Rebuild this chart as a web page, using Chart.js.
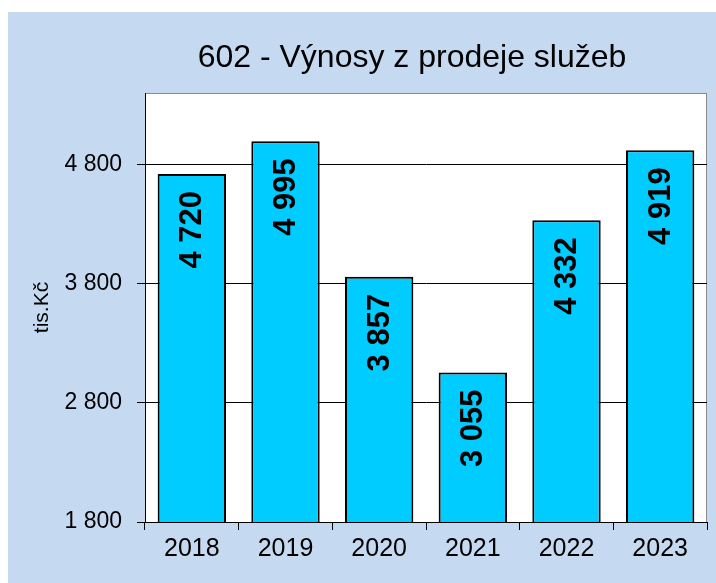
<!DOCTYPE html>
<html>
<head>
<meta charset="utf-8">
<script src="https://cdn.jsdelivr.net/npm/chart.js@4.4.0/dist/chart.umd.min.js"></script>
<style>
  html, body { margin: 0; padding: 0; background: #fff; }
  canvas { display: block; }
</style>
</head>
<body>
<canvas id="myChart" width="716" height="583"></canvas>
<script>
const years = ['2018', '2019', '2020', '2021', '2022', '2023'];
const revenues = [4720, 4995, 3857, 3055, 4332, 4919];
const yTicks = [1800, 2800, 3800, 4800];
const chartTitle = '602 - Výnosy z prodeje služeb';
const yTitle = 'tis.Kč';

function spaced(v){
    return String(v).replace(/\B(?=(\d{3})+(?!\d))/g, ' ');
}

// background, plot area, title
const frame = {
    id: 'frame',
    beforeDraw(chart){
        const ctx = chart.ctx;
        const a = chart.chartArea;
        ctx.save();
        ctx.fillStyle = '#fff';
        ctx.fillRect(0, 0, chart.width, chart.height);
        ctx.fillStyle = 'rgb(197, 217, 241)';
        ctx.fillRect(8, 12, chart.width - 8, chart.height - 12);
        ctx.fillStyle = '#fff';
        ctx.fillRect(a.left, a.top, a.right - a.left, a.bottom - a.top);
        ctx.strokeStyle = '#8c8c8c';
        ctx.lineWidth = 1;
        ctx.strokeRect(a.left + 0.5, a.top + 0.5, a.right - a.left - 1, a.bottom - a.top);
        ctx.fillStyle = '#000';
        ctx.font = '32px "Liberation Sans", Arial, sans-serif';
        ctx.textAlign = 'center';
        ctx.textBaseline = 'middle';
        ctx.fillText(chartTitle, 412, 58);
        ctx.restore();
    }
};

// rotated value labels inside the bars
const barLabels = {
    id: 'barLabels',
    afterDatasetsDraw(chart){
        const ctx = chart.ctx;
        const meta = chart.getDatasetMeta(0);
        ctx.save();
        ctx.fillStyle = '#000';
        ctx.font = 'bold 31px "Liberation Sans", Arial, sans-serif';
        ctx.textAlign = 'right';
        ctx.textBaseline = 'middle';
        meta.data.forEach((bar, i) => {
            ctx.save();
            ctx.translate(bar.x, bar.y + 17);
            ctx.rotate(-Math.PI / 2);
            ctx.fillText(spaced(revenues[i]), 0, 1);
            ctx.restore();
        });
        ctx.restore();
    }
};

const data = {
    labels: years,
    datasets: [{
        data: revenues,
        backgroundColor: 'rgb(0, 204, 255)',
        borderColor: '#000',
        borderWidth: 2,
        borderSkipped: false,
        categoryPercentage: 1,
        barPercentage: 0.73
    }]
};

const config = {
    type: 'bar',
    data: data,
    plugins: [frame, barLabels],
    options: {
        responsive: false,
        animation: false,
        layout: { padding: { left: 30, right: 9, top: 93, bottom: 0 } },
        plugins: {
            legend: { display: false },
            title: { display: false },
            tooltip: { enabled: false }
        },
        scales: {
            x: {
                grid: { drawOnChartArea: false, drawTicks: true, tickLength: 8, color: '#000', offset: true },
                border: { color: '#000', width: 1 },
                ticks: { color: '#000', padding: 4, font: { size: 25, family: '"Liberation Sans", Arial, sans-serif' } },
                afterFit: (axis) => { axis.height = 61; }
            },
            y: {
                min: 1800,
                max: 5400,
                afterBuildTicks: (axis) => { axis.ticks = yTicks.map(v => ({ value: v })); },
                grid: { color: '#000', tickLength: 8 },
                border: { color: '#000', width: 1 },
                ticks: {
                    color: '#000',
                    padding: 15,
                    font: { size: 23, family: '"Liberation Sans", Arial, sans-serif' },
                    callback: (v) => spaced(v)
                },
                title: {
                    display: true,
                    text: yTitle,
                    color: '#000',
                    padding: 0,
                    font: { size: 21, family: '"Liberation Sans", Arial, sans-serif' }
                },
                afterFit: (axis) => { axis.width = 115; }
            }
        }
    }
};

const ctx = document.getElementById('myChart').getContext('2d');
const myChart = new Chart(ctx, config);
</script>
</body>
</html>
